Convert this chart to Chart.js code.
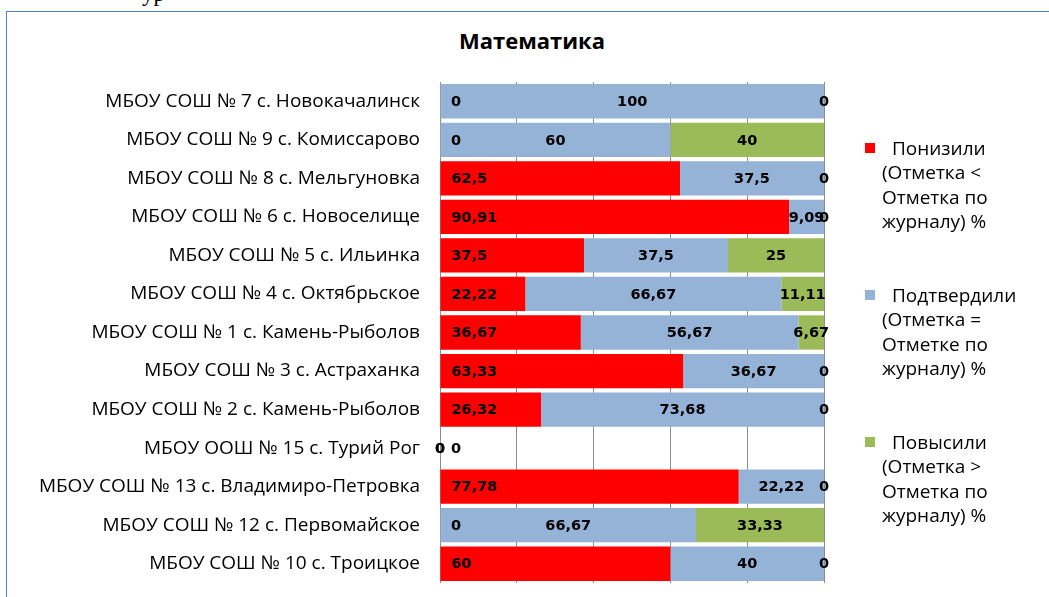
<!DOCTYPE html>
<html lang="ru">
<head>
<meta charset="utf-8">
<title>Математика</title>
<script src="https://cdn.jsdelivr.net/npm/chart.js@4.4.1/dist/chart.umd.min.js"></script>
<style>
  html, body { margin: 0; padding: 0; background: #fff; overflow: hidden; }
  #wrap { position: relative; width: 1049px; height: 597px; overflow: hidden; }
  #frame { position: absolute; left: 6px; top: 11px; width: 1100px; height: 700px; border: 1px solid #4f81bd; }
  #scrap { position: absolute; left: 142px; top: -18px; font: 23px "Liberation Serif", serif; line-height: 23px; color: #000; }
  #title { position: absolute; left: 0; width: 1064px; top: 26px; text-align: center; font: bold 22px "Open Sans", sans-serif; color: #000; line-height: 28px; }
  #chart { position: absolute; left: 0; top: 0; }
  .lg { position: absolute; left: 882px; width: 165px; font: 19px "Open Sans", sans-serif; line-height: 24.3px; color: #000; text-indent: 10px; }
  .sq { position: absolute; left: 865px; width: 10px; height: 10px; }
</style>
</head>
<body>
<div id="wrap">
  <div id="scrap">ур</div>
  <div id="frame"></div>
  <div id="title">Математика</div>
  <canvas id="chart" width="1049" height="620"></canvas>
  <div id="legend"></div>
</div>
<script>
// ===============================
//  Математика: Понизили / Подтвердили / Повысили
// ===============================

const schools = [
  'МБОУ СОШ № 7 с. Новокачалинск',
  'МБОУ СОШ № 9 с. Комиссарово',
  'МБОУ СОШ № 8 с. Мельгуновка',
  'МБОУ СОШ № 6 с. Новоселище',
  'МБОУ СОШ № 5 с. Ильинка',
  'МБОУ СОШ № 4 с. Октябрьское',
  'МБОУ СОШ № 1 с. Камень-Рыболов',
  'МБОУ СОШ № 3 с. Астраханка',
  'МБОУ СОШ № 2 с. Камень-Рыболов',
  'МБОУ ООШ № 15 с. Турий Рог',
  'МБОУ СОШ № 13 с. Владимиро-Петровка',
  'МБОУ СОШ № 12 с. Первомайское',
  'МБОУ СОШ № 10 с. Троицкое',
];

const lowered   = [0, 0, 62.5, 90.91, 37.5, 22.22, 36.67, 63.33, 26.32, 0, 77.78, 0, 60];
const confirmed = [100, 60, 37.5, 9.09, 37.5, 66.67, 56.67, 36.67, 73.68, 0, 22.22, 66.67, 40];
const raised    = [0, 40, 0, 0, 25, 11.11, 6.67, 0, 0, 0, 0, 33.33, 0];

const seriesNames = [
  ['Понизили', '(Отметка <', 'Отметка по', 'журналу) %'],
  ['Подтвердили', '(Отметка =', 'Отметке по', 'журналу) %'],
  ['Повысили', '(Отметка >', 'Отметка по', 'журналу) %'],
];
const seriesColors = ['#ff0000', '#95b3d7', '#9bbb59'];

const xTicks = [0, 20, 40, 60, 80, 100];

// Legend (HTML, multi-line like Excel)
const legendTops = [136, 283, 430];
const legendBox = document.getElementById('legend');
seriesNames.forEach((lines, i) => {
  const sq = document.createElement('div');
  sq.className = 'sq';
  sq.style.top = (legendTops[i] + 7) + 'px';
  sq.style.background = seriesColors[i];
  legendBox.appendChild(sq);
  const txt = document.createElement('div');
  txt.className = 'lg';
  txt.style.top = legendTops[i] + 'px';
  txt.innerHTML = lines.join('<br>');
  legendBox.appendChild(txt);
});

// Data labels: first series at bar start, others centered
const valueLabels = {
  id: 'valueLabels',
  afterDatasetsDraw(chart) {
    const ctx = chart.ctx;
    ctx.save();
    ctx.font = 'bold 14.5px "DejaVu Sans", sans-serif';
    ctx.fillStyle = '#000';
    ctx.textBaseline = 'middle';
    chart.data.datasets.forEach((ds, di) => {
      const meta = chart.getDatasetMeta(di);
      meta.data.forEach((bar, i) => {
        const v = ds.data[i];
        if (v === null || v === undefined) return;
        const txt = String(v).replace('.', ',');
        const p = bar.getProps(['x', 'y', 'base'], true);
        if (di === 0) {
          ctx.textAlign = 'left';
          ctx.fillText(txt, p.base + 11, p.y + 1);
        } else {
          ctx.textAlign = 'center';
          ctx.fillText(txt, (p.x + p.base) / 2, p.y + 1);
        }
      });
    });
    ctx.restore();
  },
};

const ctx = document.getElementById('chart').getContext('2d');
new Chart(ctx, {
  type: 'bar',
  data: {
    labels: schools,
    datasets: [lowered, confirmed, raised].map((data, i) => ({
      label: seriesNames[i].join(' '),
      data,
      backgroundColor: seriesColors[i],
      borderWidth: 0,
      barPercentage: 0.89,
      categoryPercentage: 1,
    })),
  },
  options: {
    indexAxis: 'y',
    responsive: false,
    animation: false,
    layout: { padding: { left: 0, top: 82, right: 225, bottom: 37 } },
    scales: {
      x: {
        stacked: true,
        min: 0,
        max: 100,
        afterBuildTicks: (scale) => { scale.ticks = xTicks.map((v) => ({ value: v })); },
        afterFit: (scale) => { scale.height = 0; },
        ticks: { display: false },
        grid: { color: '#8c8c8c', lineWidth: 1, drawTicks: false },
        border: { display: false },
      },
      y: {
        stacked: true,
        afterFit: (scale) => { scale.width = 440; },
        grid: { display: false, drawTicks: false },
        border: { display: false },
        ticks: {
          color: '#000',
          padding: 20,
          font: { family: '"Open Sans", sans-serif', size: 19 },
        },
      },
    },
    plugins: {
      legend: { display: false },
      title: { display: false },
      tooltip: { enabled: false },
    },
  },
  plugins: [valueLabels],
});
</script>
</body>
</html>
